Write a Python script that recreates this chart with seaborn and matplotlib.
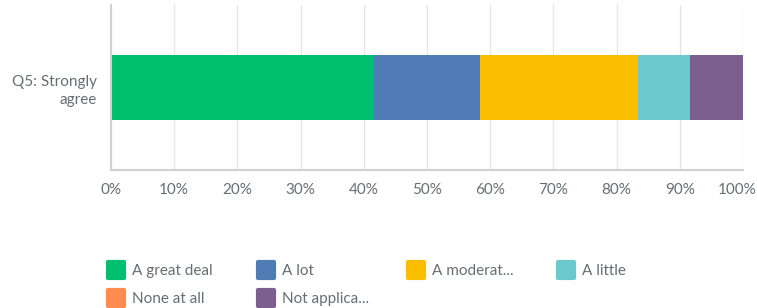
import matplotlib
matplotlib.use("Agg")
import matplotlib.pyplot as plt
import matplotlib.transforms as mtransforms
from matplotlib.lines import Line2D
from matplotlib.markers import MarkerStyle
import pandas as pd
import seaborn as sns

# Datos (porcentaje de respuestas)
question = ["Q5: Strongly\nagree"]
answers = ["A great deal", "A lot", "A moderat...", "A little", "None at all", "Not applica..."]
percent = [41.67, 16.67, 25.0, 8.33, 0.0, 8.33]
colors = ["#00bf6f", "#507cb6", "#f9be00", "#6bc8cd", "#ff8b4f", "#7d5e90"]

sns.set_theme(style="white")
plt.rcParams["font.family"] = ["Lato", "DejaVu Sans"]
text_color = "#666e73"

fig = plt.figure(figsize=(7.57, 3.08), dpi=100)
ax = fig.add_axes([0.1466, 0.448, 0.835, 0.536])

# Barras apiladas: se dibuja la suma acumulada de mayor a menor
cum = pd.Series(percent).cumsum().tolist()
for i in reversed(range(len(answers))):
    if percent[i] == 0:
        continue
    df = pd.DataFrame({"q": question, "pct": [cum[i]]})
    sns.barplot(data=df, x="pct", y="q", orient="h", color=colors[i],
                width=0.39, saturation=1, linewidth=0, ax=ax)

ax.set_xlim(0, 100)
ax.set_ylim(0.5, -0.5)
ax.set_xticks(range(0, 101, 10))
ax.set_xticklabels([f"{v}%" for v in range(0, 101, 10)])
ax.set_xlabel("")
ax.set_ylabel("")
ax.grid(axis="x", color="#e6e6e6", linewidth=1)
ax.set_axisbelow(True)
for s in ["top", "right"]:
    ax.spines[s].set_visible(False)
ax.spines["left"].set_color("#d0d0d0")
ax.spines["bottom"].set_color("#d0d0d0")
ax.spines["left"].set_linewidth(1.5)
ax.spines["bottom"].set_linewidth(1.5)
ax.tick_params(axis="both", length=0, labelsize=11, labelcolor=text_color)
ax.tick_params(axis="x", pad=9)
ax.tick_params(axis="y", pad=10)
for lab in ax.get_yticklabels():
    lab.set_linespacing(1.4)

# la etiqueta 100% se corre un poco a la izquierda para que quepa
last = ax.get_xticklabels()[-1]
last.set_transform(last.get_transform() + mtransforms.ScaledTranslation(-6 / 100, 0, fig.dpi_scale_trans))

# Leyenda: una columna por cada posición
columns = [[0, 4], [1, 5], [2], [3]]
col_x = [108, 258, 408, 558]
for idx, xpix in zip(columns, col_x):
    handles = [Line2D([], [], linestyle="", marker=MarkerStyle("s", joinstyle="round"),
                      markersize=12, markeredgewidth=3,
                      markerfacecolor=colors[k], markeredgecolor=colors[k]) for k in idx]
    labels = [answers[k] for k in idx]
    fig.legend(handles, labels, loc="upper left", bbox_to_anchor=(xpix / 757, 0.142),
               frameon=False, fontsize=11, handlelength=1.1, handletextpad=0.5,
               labelspacing=0.9, borderpad=0, borderaxespad=0, labelcolor=text_color)

fig.savefig("out.png", dpi=100)
